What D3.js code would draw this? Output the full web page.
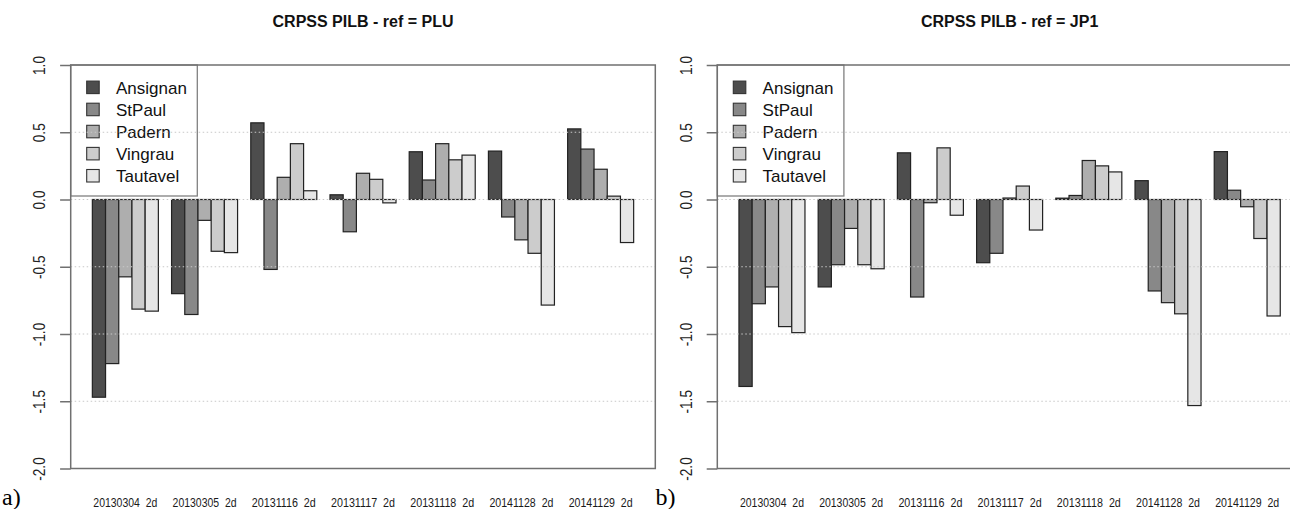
<!DOCTYPE html>
<html>
<head>
<meta charset="utf-8">
<script src="https://cdn.jsdelivr.net/npm/d3@7"></script>
<style>
  html, body { margin: 0; padding: 0; background: #fff; }
  svg { display: block; }
</style>
</head>
<body>
<svg id="chart" width="1290" height="509"></svg>
<script>
// Event dates (2-day lead time) on the x axis
const categories = ["20130304  2d", "20130305  2d", "20131116  2d", "20131117  2d",
                    "20131118  2d", "20141128  2d", "20141129  2d"];
// Gauging stations, one bar each per event
const stations = ["Ansignan", "StPaul", "Padern", "Vingrau", "Tautavel"];
const stationColors = ["#4D4D4D", "#888888", "#AEAEAE", "#CCCCCC", "#E6E6E6"];

// Y axis ticks and their printed labels
const yTicks = [-2, -1.5, -1, -0.5, 0, 0.5, 1];
const yTickLabels = ["-2.0", "-1.5", "-1.0", "-0.5", "0.0", "0.5", "1.0"];
const gridLevels = [-1.5, -1, -0.5, 0, 0.5];

// CRPSS of PILB with PLU as reference (rows follow `stations`)
const crpssRefPLU = [
  [-1.47, -0.70, 0.57, 0.035, 0.355, 0.36, 0.525],
  [-1.22, -0.855, -0.52, -0.24, 0.145, -0.13, 0.375],
  [-0.575, -0.155, 0.165, 0.195, 0.415, -0.30, 0.225],
  [-0.815, -0.385, 0.415, 0.15, 0.295, -0.40, 0.025],
  [-0.83, -0.395, 0.065, -0.025, 0.33, -0.785, -0.32]
];

// CRPSS of PILB with JP1 as reference
const crpssRefJP1 = [
  [-1.39, -0.65, 0.347, -0.47, 0.01, 0.14, 0.356],
  [-0.775, -0.485, -0.725, -0.40, 0.03, -0.68, 0.069],
  [-0.65, -0.215, -0.024, 0.011, 0.29, -0.767, -0.054],
  [-0.945, -0.485, 0.384, 0.10, 0.25, -0.85, -0.29],
  [-0.99, -0.515, -0.117, -0.227, 0.205, -1.532, -0.866]
];

const panelTitles = ["CRPSS PILB - ref = PLU", "CRPSS PILB - ref = JP1"];
const panelTags = ["a)", "b)"];
const panelValues = [crpssRefPLU, crpssRefJP1];

// ---- layout ----
const svg = d3.select("#chart");
const panelLefts = [70.7, 717.3];
const tagX = [2, 655.5];
const boxW = 584.6, boxTop = 65, boxBottom = 468.5;
const y = d3.scaleLinear().domain([-2, 1]).range([boxBottom, boxTop]);

const sans = "'Liberation Sans', Arial, Helvetica, sans-serif";

panelValues.forEach((values, p) => {
  const L = panelLefts[p], R = L + boxW;
  // bars span 41 units, axis range padded by 4% on each side
  const pad = boxW * 0.04 / 1.08;
  const xg = d3.scaleBand().domain(categories).range([L + pad, R - pad])
    .paddingInner(1 / 6).paddingOuter(0);
  const xs = d3.scaleBand().domain(stations).range([0, xg.bandwidth()]).padding(0);

  const g = svg.append("g");

  // bars
  const groups = g.selectAll("g.event").data(categories).join("g")
    .attr("class", "event")
    .attr("transform", d => `translate(${xg(d)},0)`);
  groups.selectAll("rect")
    .data((c, ci) => stations.map((s, si) => ({ s, si, v: values[si][ci] })))
    .join("rect")
    .attr("x", d => xs(d.s))
    .attr("width", xs.bandwidth())
    .attr("y", d => y(Math.max(0, d.v)))
    .attr("height", d => Math.abs(y(d.v) - y(0)))
    .attr("fill", d => stationColors[d.si])
    .attr("stroke", "#222")
    .attr("stroke-width", 1.2);

  // legend
  const lg = g.append("g");
  lg.append("rect")
    .attr("x", L).attr("y", boxTop).attr("width", 126.6).attr("height", 131)
    .attr("fill", "#fff").attr("stroke", "#808080").attr("stroke-width", 1.3);
  stations.forEach((s, i) => {
    const cy = 87.3 + i * 22.1;
    lg.append("rect")
      .attr("x", L + 16).attr("y", cy - 6.2).attr("width", 12.5).attr("height", 12.5)
      .attr("fill", stationColors[i]).attr("stroke", "#333").attr("stroke-width", 1.1);
    lg.append("text")
      .attr("x", L + 45.3).attr("y", cy + 6.2)
      .attr("font-family", sans).attr("font-size", 17).attr("fill", "#111")
      .text(s);
  });

  // dotted horizontal grid, drawn over the bars
  g.append("g").selectAll("line").data(gridLevels).join("line")
    .attr("x1", L).attr("x2", R)
    .attr("y1", d => y(d)).attr("y2", d => y(d))
    .attr("stroke", "#c8c8c8").attr("stroke-width", 1)
    .attr("stroke-dasharray", "1.5,2.5");

  // plot frame
  g.append("rect")
    .attr("x", L).attr("y", boxTop).attr("width", boxW).attr("height", boxBottom - boxTop)
    .attr("fill", "none").attr("stroke", "#707070").attr("stroke-width", 1.5);

  // y axis with rotated, slightly condensed labels
  const ax = g.append("g").attr("transform", `translate(${L},0)`)
    .call(d3.axisLeft(y).tickValues(yTicks).tickSize(10.6).tickFormat((d, i) => yTickLabels[i]));
  ax.select(".domain").remove();
  ax.selectAll(".tick line").attr("stroke", "#707070").attr("stroke-width", 1.5);
  ax.selectAll(".tick text")
    .attr("x", null).attr("dy", null)
    .attr("transform", "translate(-25.6,0) rotate(-90) scale(0.8,1)")
    .attr("text-anchor", "middle")
    .attr("font-family", sans).attr("font-size", 17).attr("fill", "#222");

  // event labels under each group
  g.append("g").selectAll("text").data(categories).join("text")
    .attr("x", d => xg(d) + xg.bandwidth() / 2)
    .attr("y", 507)
    .attr("text-anchor", "middle")
    .attr("font-family", sans).attr("font-size", 12.5).attr("fill", "#1a1a1a")
    .attr("textLength", 64).attr("lengthAdjust", "spacingAndGlyphs")
    .style("white-space", "pre")
    .text(d => d);

  // title
  g.append("text")
    .attr("x", (L + R) / 2).attr("y", 27)
    .attr("text-anchor", "middle")
    .attr("font-family", sans).attr("font-size", 16).attr("font-weight", "bold")
    .attr("fill", "#111")
    .text(panelTitles[p]);

  // panel tag
  g.append("text")
    .attr("x", tagX[p]).attr("y", 505)
    .attr("font-family", "'Liberation Serif', 'Times New Roman', serif")
    .attr("font-size", 24).attr("fill", "#000")
    .text(panelTags[p]);
});
</script>
</body>
</html>
